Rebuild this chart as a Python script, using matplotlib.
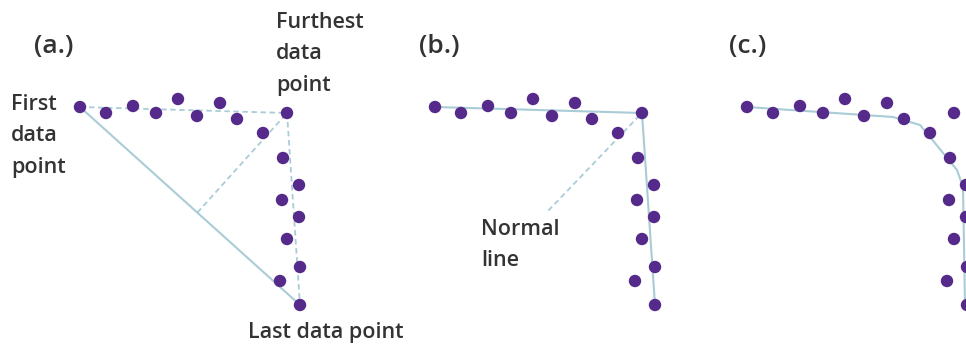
import numpy as np
import matplotlib
matplotlib.use("Agg")
import matplotlib.pyplot as plt

plt.rcParams['font.family'] = ['Open Sans', 'DejaVu Sans']

# data points of the knee shape (same for every panel), pixel-like units
pt_x = [80, 106, 133, 156, 178, 197, 220, 237, 263, 287, 283, 299, 282, 299, 287, 300, 280, 300]
pt_y = [107, 113, 106, 113, 99, 116, 103, 119, 133, 113, 158, 185, 200, 217, 239, 267, 281, 305]
knee = 9  # index of the furthest point

# smoothed fit drawn in panel (c)
fit_x = [80, 226, 253, 263, 290, 296, 298]
fit_y = [107, 117, 125, 137, 170, 187, 305]

panel_shift = [0, 355, 667]
panel_names = ['(a.)', '(b.)', '(c.)']
panel_name_x = [34, 419, 729]

dot_col = '#552a8a'
line_col = '#a9ccd6'
text_col = '#333333'

fig = plt.figure(figsize=(9.66, 3.47), dpi=100)
ax = fig.add_axes([0, 0, 1, 1])
ax.set_xlim(0, 966)
ax.set_ylim(347, 0)
ax.axis('off')

x = np.array(pt_x, dtype=float)
y = np.array(pt_y, dtype=float)

# foot of the normal from the furthest point to the first-last line
p0 = np.array([x[0], y[0]])
p1 = np.array([x[-1], y[-1]])
pk = np.array([x[knee], y[knee]])
d = p1 - p0
t = np.dot(pk - p0, d) / np.dot(d, d)
foot = p0 + t * d

dash = dict(color=line_col, lw=1.3, ls=(0, (3, 2)), zorder=1)
solid = dict(color=line_col, lw=1.5, zorder=1)

# (a.)
s = panel_shift[0]
ax.plot([x[0] + s, x[-1] + s], [y[0], y[-1]], **solid)
ax.plot([x[0] + s, x[knee] + s], [y[0], y[knee]], **dash)
ax.plot([x[knee] + s, x[-1] + s], [y[knee], y[-1]], **dash)
ax.plot([foot[0] + s, x[knee] + s], [foot[1], y[knee]], **dash)

# (b.)
s = panel_shift[1]
ax.plot([x[0] + s, x[knee] + s, x[-1] + s], [y[0], y[knee], y[-1]], **solid)
ax.plot([foot[0] + s - 4, x[knee] + s - 4], [foot[1] - 2, y[knee] + 4], **dash)

# (c.)
s = panel_shift[2]
ax.plot(np.array(fit_x) + s, fit_y, **solid)

for s in panel_shift:
    ax.scatter(x + s, y, s=80, color=dot_col, edgecolors='none', zorder=3)

for name, nx in zip(panel_names, panel_name_x):
    ax.text(nx, 34, name, fontsize=19, color=text_col, ha='left', va='top',
            fontweight='semibold')

lab = dict(fontsize=15.5, color=text_col, ha='left', va='top', linespacing=1.65,
           fontweight='semibold')
ax.text(11, 94, 'First\ndata\npoint', **lab)
ax.text(276, 12, 'Furthest\ndata\npoint', **lab)
ax.text(248, 322, 'Last data point', **lab)
ax.text(481, 219, 'Normal\nline', **lab)

fig.savefig('out.png', dpi=100)
